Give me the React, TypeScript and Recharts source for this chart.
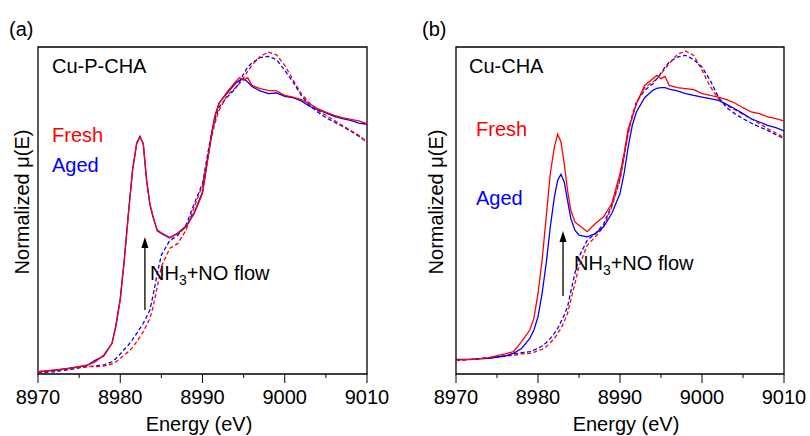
import { LineChart, Line, XAxis, YAxis, ReferenceArea, ReferenceLine } from "recharts";

const energy = [
  8970, 8972, 8974, 8976, 8977, 8978, 8979, 8979.5, 8980, 8980.5, 8981, 8981.5, 8982, 8982.4,
  8982.8, 8983.2, 8983.6, 8984, 8984.5, 8985, 8986, 8987, 8988, 8989, 8990, 8990.5, 8991,
  8991.5, 8992, 8993, 8994, 8994.5, 8995, 8995.5, 8996, 8997, 8998, 8999, 9000, 9001, 9002,
  9003, 9004, 9005, 9006, 9007, 9008, 9009, 9010,
];

const energyTicks = [8970, 8975, 8980, 8985, 8990, 8995, 9000, 9005, 9010];

// (a) Cu-P-CHA
const aFreshFlow = [
  0.011, 0.02, 0.028, 0.044, 0.06, 0.093, 0.15, 0.239, 0.362, 0.557, 0.785, 0.997, 1.127, 1.16,
  1.127, 0.948, 0.834, 0.769, 0.704, 0.691, 0.668, 0.687, 0.72, 0.785, 0.883, 1.013, 1.144,
  1.258, 1.323, 1.38, 1.429, 1.45, 1.437, 1.45, 1.412, 1.396, 1.388, 1.385, 1.363, 1.355, 1.342,
  1.323, 1.298, 1.282, 1.266, 1.254, 1.246, 1.238, 1.225,
];
const aAgedFlow = [
  0.011, 0.018, 0.03, 0.042, 0.068, 0.088, 0.15, 0.245, 0.37, 0.565, 0.79, 1.0, 1.13, 1.163,
  1.125, 0.95, 0.83, 0.765, 0.7, 0.688, 0.666, 0.69, 0.724, 0.79, 0.89, 1.02, 1.15, 1.262,
  1.325, 1.375, 1.421, 1.437, 1.445, 1.429, 1.407, 1.385, 1.372, 1.375, 1.359, 1.352, 1.336,
  1.31, 1.293, 1.277, 1.261, 1.25, 1.241, 1.228, 1.222,
];
const aFreshInit = [
  0.007, 0.016, 0.028, 0.036, 0.036, 0.039, 0.049, 0.06, 0.077, 0.093, 0.109, 0.13, 0.158,
  0.182, 0.207, 0.239, 0.272, 0.329, 0.427, 0.525, 0.614, 0.639, 0.704, 0.818, 0.924, 1.03,
  1.144, 1.225, 1.29, 1.363, 1.401, 1.421, 1.45, 1.482, 1.51, 1.554, 1.575, 1.562, 1.51, 1.44,
  1.372, 1.326, 1.29, 1.266, 1.241, 1.217, 1.192, 1.168, 1.135,
];
const aAgedInit = [
  0.007, 0.011, 0.023, 0.036, 0.039, 0.044, 0.06, 0.077, 0.098, 0.121, 0.142, 0.169, 0.199,
  0.223, 0.248, 0.28, 0.313, 0.386, 0.492, 0.582, 0.652, 0.679, 0.728, 0.834, 0.932, 1.046,
  1.16, 1.241, 1.306, 1.355, 1.396, 1.429, 1.469, 1.502, 1.521, 1.548, 1.554, 1.538, 1.486,
  1.429, 1.363, 1.315, 1.282, 1.254, 1.233, 1.212, 1.189, 1.163, 1.135,
];

// (b) Cu-CHA
const bFreshFlow = [
  0.068, 0.072, 0.08, 0.098, 0.109, 0.158, 0.215, 0.272, 0.394, 0.557, 0.769, 0.981, 1.111,
  1.173, 1.135, 1.03, 0.899, 0.801, 0.744, 0.728, 0.696, 0.736, 0.769, 0.834, 0.981, 1.078,
  1.201, 1.258, 1.323, 1.412, 1.445, 1.461, 1.445, 1.456, 1.412, 1.401, 1.396, 1.391, 1.372,
  1.363, 1.355, 1.342, 1.326, 1.303, 1.282, 1.274, 1.258, 1.249, 1.238,
];
const bAgedFlow = [
  0.072, 0.073, 0.077, 0.088, 0.101, 0.125, 0.174, 0.215, 0.28, 0.394, 0.541, 0.72, 0.867,
  0.948, 0.977, 0.94, 0.85, 0.761, 0.704, 0.679, 0.671, 0.687, 0.72, 0.785, 0.883, 0.981,
  1.111, 1.217, 1.282, 1.352, 1.388, 1.398, 1.401, 1.401, 1.394, 1.385, 1.372, 1.363, 1.355,
  1.347, 1.339, 1.319, 1.298, 1.274, 1.249, 1.233, 1.217, 1.205, 1.189,
];
const bFreshInit = [
  0.065, 0.072, 0.077, 0.088, 0.091, 0.098, 0.101, 0.106, 0.114, 0.121, 0.134, 0.153, 0.174,
  0.199, 0.223, 0.256, 0.296, 0.362, 0.443, 0.525, 0.63, 0.671, 0.72, 0.818, 0.948, 1.062,
  1.176, 1.258, 1.323, 1.401, 1.429, 1.445, 1.469, 1.494, 1.518, 1.564, 1.58, 1.559, 1.486,
  1.407, 1.347, 1.315, 1.293, 1.271, 1.249, 1.225, 1.201, 1.179, 1.157,
];
const bAgedInit = [
  0.068, 0.072, 0.08, 0.088, 0.098, 0.104, 0.109, 0.117, 0.125, 0.137, 0.153, 0.174, 0.199,
  0.223, 0.256, 0.288, 0.329, 0.402, 0.492, 0.573, 0.655, 0.687, 0.733, 0.826, 0.956, 1.07,
  1.184, 1.266, 1.331, 1.388, 1.42, 1.445, 1.473, 1.502, 1.526, 1.551, 1.559, 1.538, 1.502,
  1.437, 1.355, 1.303, 1.274, 1.249, 1.228, 1.209, 1.192, 1.171, 1.152,
];

const dataA = energy.map((e, i) => ({
  e,
  freshFlow: aFreshFlow[i],
  agedFlow: aAgedFlow[i],
  freshInit: aFreshInit[i],
  agedInit: aAgedInit[i],
}));
const dataB = energy.map((e, i) => ({
  e,
  freshFlow: bFreshFlow[i],
  agedFlow: bAgedFlow[i],
  freshInit: bFreshInit[i],
  agedInit: bAgedInit[i],
}));

const FONT = '"Liberation Sans", Arial, sans-serif';
const RED = "#ff0000";
const BLUE = "#0000ff";

const EnergyTick = (props: any) => {
  const { x, y, payload } = props;
  const major = payload.value % 10 === 0;
  return (
    <g>
      <line x1={x} y1={y} x2={x} y2={y + (major ? 9 : 4)} stroke="#000" strokeWidth={1} />
      {major && (
        <text x={x} y={y + 30} textAnchor="middle" fontSize={20} fontFamily={FONT} fill="#000">
          {payload.value}
        </text>
      )}
    </g>
  );
};

const Arrow = (props: any) => {
  const { x1, y1, x2, y2 } = props;
  const top = Math.min(y1, y2);
  const bottom = Math.max(y1, y2);
  return (
    <g>
      <line x1={x1} y1={bottom} x2={x2} y2={top + 8} stroke="#000" strokeWidth={1.3} />
      <polygon points={`${x1},${top} ${x1 - 3.5},${top + 11} ${x1 + 3.5},${top + 11}`} fill="#000" />
    </g>
  );
};

function Panel({ data, left, right, arrowX, arrowFrom, arrowTo }: any) {
  return (
    <LineChart
      width={405}
      height={436}
      data={data}
      margin={{ top: 47, right, bottom: 32, left }}
    >
      <XAxis
        dataKey="e"
        type="number"
        domain={[8970, 9010]}
        ticks={energyTicks}
        allowDataOverflow
        axisLine={false}
        tickLine={false}
        tickSize={0}
        tickMargin={0}
        height={30}
        tick={<EnergyTick />}
        interval={0}
      />
      <YAxis type="number" domain={[0, 1.6]} hide allowDataOverflow />
      <ReferenceArea x1={8970} x2={9010} y1={0} y2={1.6} fill="none" stroke="#000" strokeWidth={1.3} />
      <Line dataKey="agedInit" stroke={BLUE} strokeWidth={1.3} strokeDasharray="4 2.5" dot={false} isAnimationActive={false} />
      <Line dataKey="freshInit" stroke={RED} strokeWidth={1.3} strokeDasharray="4 2.5" dot={false} isAnimationActive={false} />
      <Line dataKey="agedFlow" stroke={BLUE} strokeWidth={1.3} dot={false} isAnimationActive={false} />
      <Line dataKey="freshFlow" stroke={RED} strokeWidth={1.3} dot={false} isAnimationActive={false} />
      <ReferenceLine
        segment={[
          { x: arrowX, y: arrowFrom },
          { x: arrowX, y: arrowTo },
        ]}
        shape={<Arrow />}
      />
    </LineChart>
  );
}

function FlowLabel({ x, y }: { x: number; y: number }) {
  return (
    <text x={x} y={y} fontSize={20} fontFamily={FONT} fill="#000">
      NH
      <tspan fontSize={14} dy={5}>3</tspan>
      <tspan dy={-5}>+NO flow</tspan>
    </text>
  );
}

export default function App() {
  return (
    <div style={{ position: "absolute", left: 0, top: 0, width: 810, height: 436, background: "#fff" }}>
      <div style={{ position: "absolute", left: 0, top: 0 }}>
        <Panel data={dataA} left={38} right={38} arrowX={8983} arrowFrom={0.313} arrowTo={0.67} />
      </div>
      <div style={{ position: "absolute", left: 405, top: 0 }}>
        <Panel data={dataB} left={51} right={26} arrowX={8983.05} arrowFrom={0.382} arrowTo={0.7} />
      </div>
      <svg
        width={810}
        height={436}
        style={{ position: "absolute", left: 0, top: 0, pointerEvents: "none" }}
      >
        <g fontFamily={FONT} fontSize={20}>
          <text x={9} y={36} fill="#000">(a)</text>
          <text x={422} y={36} fill="#000">(b)</text>
          <text x={52} y={73} fill="#000">Cu-P-CHA</text>
          <text x={469} y={73} fill="#000">Cu-CHA</text>
          <text x={52} y={142} fill={RED}>Fresh</text>
          <text x={52} y={172} fill={BLUE}>Aged</text>
          <text x={476} y={136} fill={RED}>Fresh</text>
          <text x={476} y={205} fill={BLUE}>Aged</text>
          <text x={199} y={431} textAnchor="middle" fill="#000">Energy (eV)</text>
          <text x={626} y={431} textAnchor="middle" fill="#000">Energy (eV)</text>
          <text transform="translate(29,202) rotate(-90)" textAnchor="middle" fill="#000">
            Normalized μ(E)
          </text>
          <text transform="translate(443,202) rotate(-90)" textAnchor="middle" fill="#000">
            Normalized μ(E)
          </text>
        </g>
        <FlowLabel x={150} y={280} />
        <FlowLabel x={574} y={270} />
      </svg>
    </div>
  );
}
